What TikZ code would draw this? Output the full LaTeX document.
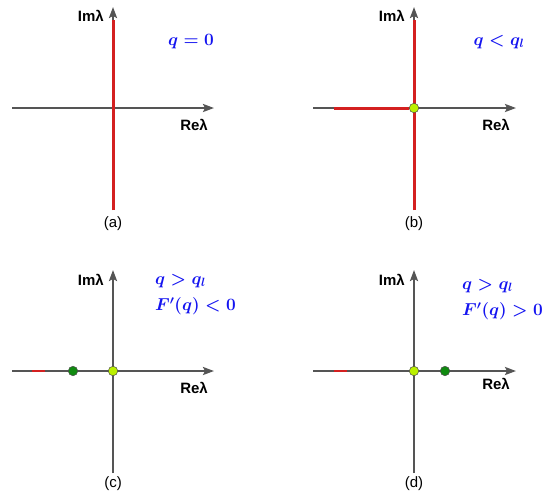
\documentclass[tikz,border=0pt]{standalone}
\usepackage{fontspec}
\setsansfont{Liberation Sans}
\usetikzlibrary{arrows.meta}
\definecolor{axisgray}{HTML}{555555}
\definecolor{locusred}{HTML}{D42020}
\definecolor{mathblue}{HTML}{1414F0}
\definecolor{ylw}{HTML}{BBF000}
\definecolor{grn}{HTML}{108A10}
\tikzset{
  axis/.style={draw=axisgray,line width=2pt,-{Stealth[length=11pt,width=8pt,inset=2pt]}},
  locus/.style={draw=locusred,line width=3pt},
  stub/.style={draw=locusred,line width=2.4pt},
  axlabel/.style={font=\sffamily\bfseries\fontsize{15}{17}\selectfont,inner sep=0pt},
  caption/.style={font=\sffamily\fontsize{15}{17}\selectfont,inner sep=0pt},
  cond/.style={text=mathblue,font=\fontsize{17}{21}\selectfont\boldmath,inner sep=0pt,align=left},
  dotY/.style={circle,draw=black!70,line width=0.5pt,fill=ylw,minimum size=9.5pt,inner sep=0pt},
  dotG/.style={circle,draw=black!70,line width=0.5pt,fill=grn,minimum size=9.5pt,inner sep=0pt},
}
\begin{document}
\begin{tikzpicture}[x=1pt,y=-1pt]
\useasboundingbox (0,0) rectangle (554,493);
% ---------- (a)
\coordinate (aL) at (12,108); \coordinate (aR) at (214,108);
\coordinate (aT) at (113,7); \coordinate (aB) at (113,210);
\coordinate (aRt) at (113,20);
\draw[axis] (aL) -- (aR);
\draw[axis] (aB) -- (aT);
\draw[locus] (aB) -- (aRt);
\node[axlabel,anchor=east] (aIm) at (104,16) {Imλ};
\node[axlabel,anchor=east] (aRe) at (208,125) {Reλ};
\node[cond] (aq) at (191,42) {$q=0$};
\node[caption] (acap) at (113,224) {(a)};
% ---------- (b)
\coordinate (bL) at (313,108); \coordinate (bR) at (516,108);
\coordinate (bT) at (414,7); \coordinate (bB) at (414,210);
\coordinate (bRt) at (414,20); \coordinate (bRl) at (334,108);
\draw[axis] (bL) -- (bR);
\draw[axis] (bB) -- (bT);
\draw[locus] (bB) -- (bRt);
\node[dotY] (bO) at (414,108) {};
\draw[locus] (bRl) -- (bO.west);
\node[axlabel,anchor=east] (bIm) at (405,16) {Imλ};
\node[axlabel,anchor=east] (bRe) at (510,125) {Reλ};
\node[cond] (bq) at (499,42) {$q<q_l$};
\node[caption] (bcap) at (414,224) {(b)};
% ---------- (c)
\coordinate (cL) at (12,371); \coordinate (cR) at (214,371);
\coordinate (cT) at (113,270); \coordinate (cB) at (113,473);
\coordinate (cS1) at (32,371); \coordinate (cS2) at (45,371);
\draw[axis] (cL) -- (cR);
\draw[axis] (cB) -- (cT);
\draw[stub] (cS1) -- (cS2);
\node[dotG] (cG) at (73,371) {};
\node[dotY] (cO) at (113,371) {};
\node[axlabel,anchor=east] (cIm) at (104,280) {Imλ};
\node[axlabel,anchor=east] (cRe) at (208,388) {Reλ};
\node[cond,anchor=west] (cq) at (155,281) {$q>q_l$};
\node[cond,anchor=west] (cF) at (155,306) {$F'(q)<0$};
\node[caption] (ccap) at (113,484) {(c)};
% ---------- (d)
\coordinate (dL) at (313,371); \coordinate (dR) at (516,371);
\coordinate (dT) at (414,270); \coordinate (dB) at (414,473);
\coordinate (dS1) at (334,371); \coordinate (dS2) at (347,371);
\draw[axis] (dL) -- (dR);
\draw[axis] (dB) -- (dT);
\draw[stub] (dS1) -- (dS2);
\node[dotY] (dO) at (414,371) {};
\node[dotG] (dG) at (445,371) {};
\node[axlabel,anchor=east] (dIm) at (405,280) {Imλ};
\node[axlabel,anchor=east] (dRe) at (510,384) {Reλ};
\node[cond,anchor=west] (dq) at (462,286) {$q>q_l$};
\node[cond,anchor=west] (dF) at (462,311) {$F'(q)>0$};
\node[caption] (dcap) at (414,484) {(d)};
\end{tikzpicture}
\end{document}
